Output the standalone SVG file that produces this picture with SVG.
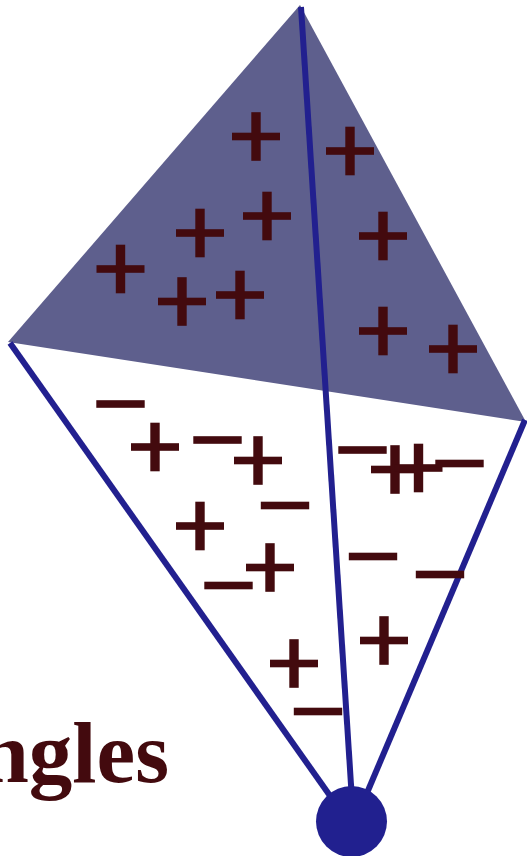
<svg xmlns="http://www.w3.org/2000/svg" width="527" height="856" viewBox="0 0 527 856">
<defs>
<style>
.wire{stroke:#22208f;stroke-width:6;fill:none;stroke-linecap:butt}
.q{fill:#430a0e}
.lbl{font-family:"Liberation Serif","Times New Roman",serif;font-weight:bold;font-size:87px;fill:#430a0e}
</style>
<g id="plus"><rect class="q" x="-24" y="-3.8" width="48" height="7.6"/><rect class="q" x="-4.7" y="-24.3" width="9.4" height="48.6"/></g>
<g id="minus"><rect class="q" x="-24.2" y="-3.8" width="48.4" height="7.6"/></g>
</defs>
<rect width="527" height="856" fill="#ffffff"/>
<g id="charged-region">
<polygon points="300,5 8,342 526,422" fill="#5e5f8d"/>
</g>
<g id="connectors">
<line class="wire" x1="301" y1="7" x2="352" y2="800"/>
<line class="wire" x1="10" y1="343" x2="333" y2="800"/>
<line class="wire" x1="525" y1="420" x2="364" y2="800"/>
</g>
<g id="ball">
<circle cx="351.5" cy="821.5" r="35.5" fill="#21208f"/>
</g>
<g id="charges">
<use href="#plus" x="256" y="136.5"/>
<use href="#plus" x="350" y="151"/>
<use href="#plus" x="200" y="233"/>
<use href="#plus" x="267" y="216"/>
<use href="#plus" x="383" y="236"/>
<use href="#plus" x="120.5" y="269"/>
<use href="#plus" x="182" y="301.5"/>
<use href="#plus" x="240" y="295"/>
<use href="#plus" x="383" y="331"/>
<use href="#plus" x="453" y="349"/>
<use href="#minus" x="120.5" y="404"/>
<use href="#plus" x="155" y="447"/>
<use href="#minus" x="217.5" y="440"/>
<use href="#plus" x="258" y="460.5"/>
<use href="#minus" x="362.5" y="450"/>
<use href="#plus" x="395" y="469.5"/>
<use href="#plus" x="418.5" y="468"/>
<use href="#minus" x="459.5" y="463.5"/>
<use href="#minus" x="285" y="505.5"/>
<use href="#plus" x="200" y="526"/>
<use href="#plus" x="270" y="567.5"/>
<use href="#minus" x="228.5" y="585.5"/>
<use href="#minus" x="373" y="556.5"/>
<use href="#minus" x="440" y="574.5"/>
<use href="#plus" x="384" y="640.5"/>
<use href="#plus" x="294" y="663.5"/>
<use href="#minus" x="318" y="711.5"/>
</g>
<g id="title">
<text class="lbl" x="169" y="782" text-anchor="end">ngles</text>
</g>
</svg>
